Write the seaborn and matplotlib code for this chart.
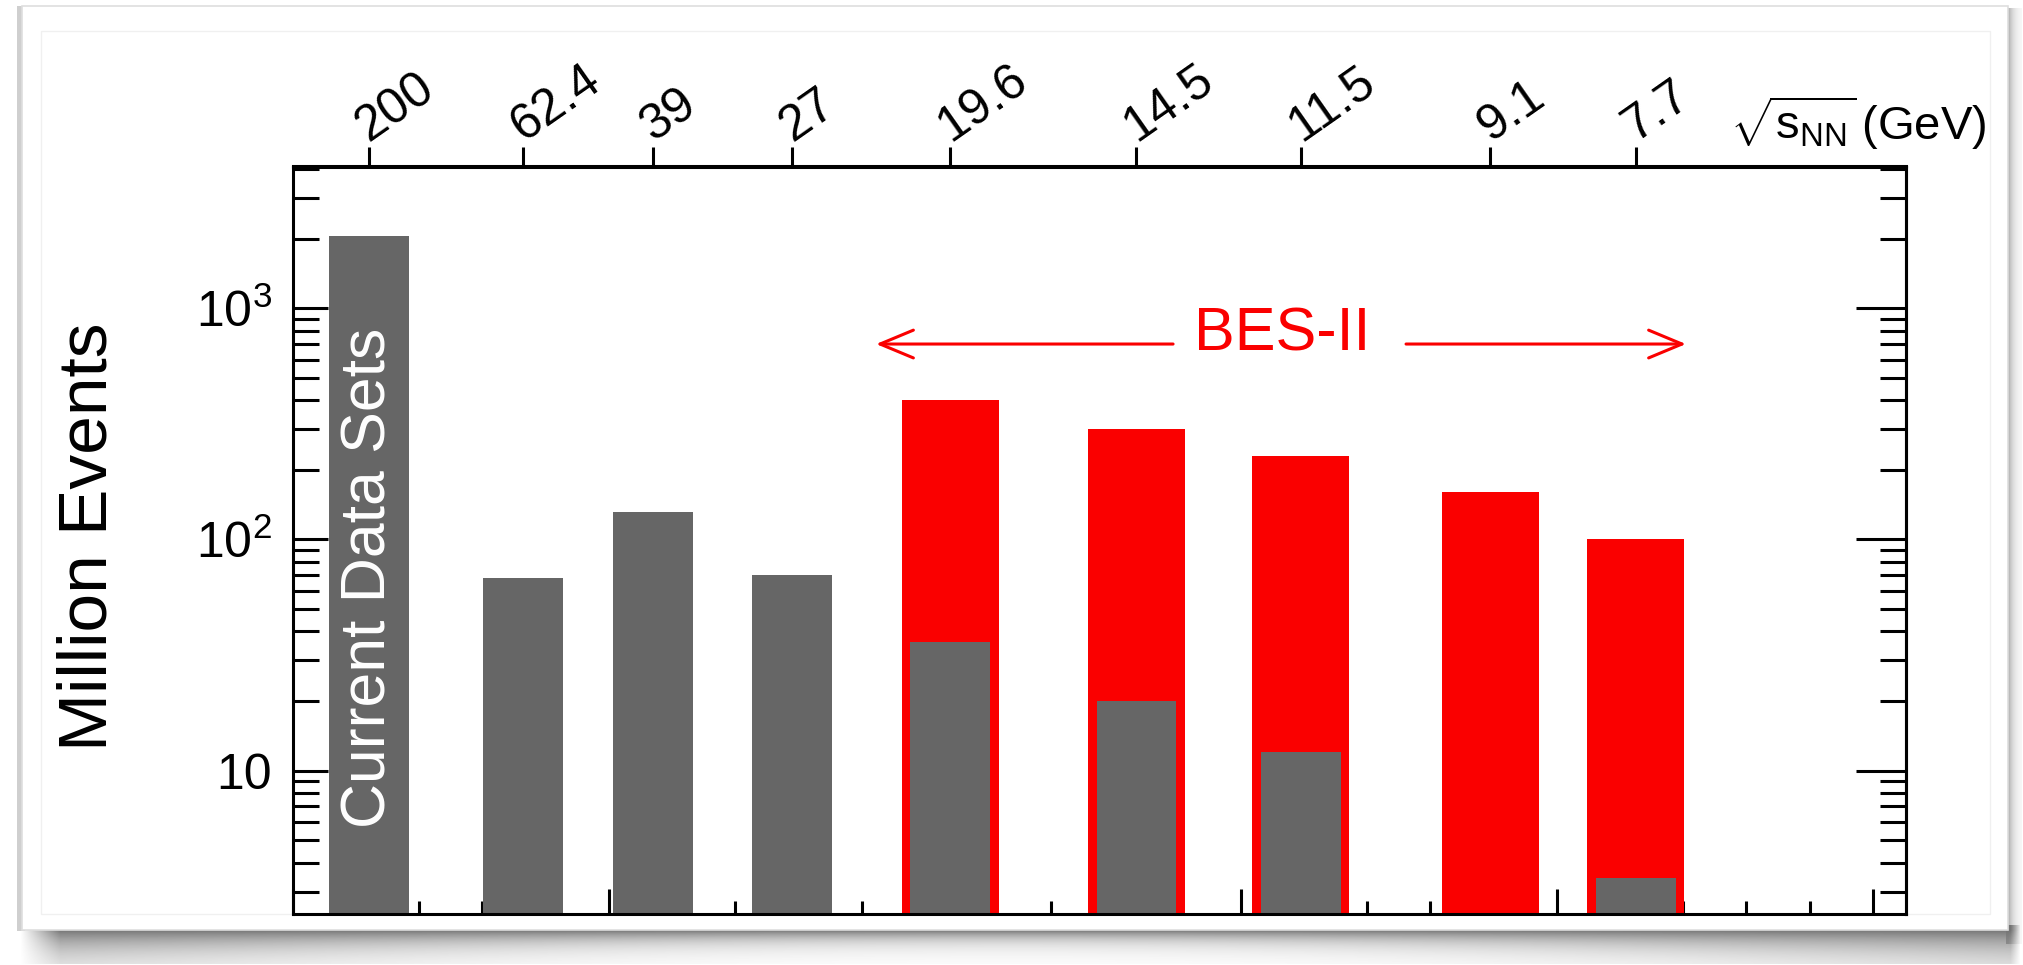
import numpy as np
import pandas as pd
import matplotlib
matplotlib.use('Agg')
import matplotlib.pyplot as plt
import seaborn as sns
import matplotlib.transforms as mtransforms
from matplotlib.patches import Rectangle
from matplotlib.ticker import (FixedLocator, FixedFormatter, NullFormatter,
                               MultipleLocator, LogLocator, NullLocator)

# ---------------- data ----------------
energies = ['200', '62.4', '39', '27', '19.6', '14.5', '11.5', '9.1', '7.7']   # sqrt(s_NN) GeV
mu_B = [24, 73, 114, 158, 208, 267, 319, 379, 425]                             # MeV (x position)
current_events = [2050, 68, 132, 70, 36, 20, 12, np.nan, 3.45]                 # million events
bes2_events = [np.nan, np.nan, np.nan, np.nan, 400, 300, 230, 160, 100]        # million events
y_tick_values = [10, 100, 1000]
y_tick_labels = ['10', r'$10^{2}$', r'$10^{3}$']

# ---------------- style ----------------
sns.set_style('white')
plt.rcParams['font.family'] = ['Liberation Sans', 'DejaVu Sans']
plt.rcParams['mathtext.fontset'] = 'custom'
plt.rcParams['mathtext.rm'] = 'Liberation Sans'
plt.rcParams['mathtext.it'] = 'Liberation Sans:italic'
plt.rcParams['mathtext.bf'] = 'Liberation Sans:bold'
plt.rcParams['axes.axisbelow'] = True
for k in ['text.color', 'axes.labelcolor', 'xtick.color', 'ytick.color',
          'axes.edgecolor']:
    plt.rcParams[k] = 'black'

W, H = 2023, 965
fig = plt.figure(figsize=(W / 100, H / 100), dpi=100)
fig.patch.set_facecolor('white')

# ---------------- slide card background ----------------
bg = fig.add_axes([0, 0, 1, 1], zorder=-10)
bg.axis('off')
# bottom shadow
ys = np.arange(925, 965)
xs = np.arange(0, W)
X, Y = np.meshgrid(xs, ys)
u = np.abs(2 * X / W - 1)
thick = 10 + 16 * u ** 2
alpha = 0.9 * np.exp(-((Y - 930).clip(0)) / thick)
edge_fade = np.clip((X - 20) / 40, 0, 1) * np.clip((2020 - X) / 10, 0, 1)
alpha = alpha * edge_fade
img = np.zeros((len(ys), len(xs), 4))
img[..., :3] = 0.40
img[..., 3] = alpha
bg.imshow(img, extent=(0, W, ys[-1], ys[0]), aspect='auto', interpolation='bilinear')
# right shadow
xr = np.arange(2006, 2023)
ysr = np.arange(8, 945)
Xr, Yr = np.meshgrid(xr, ysr)
imr = np.zeros((len(ysr), len(xr), 4))
imr[..., :3] = 0.45
imr[..., 3] = 0.6 * np.exp(-(Xr - 2008).clip(0) / 6.0)
bg.imshow(imr, extent=(xr[0], xr[-1], ysr[-1], ysr[0]), aspect='auto', interpolation='bilinear')
# left thin shadow
bg.add_patch(Rectangle((17, 6), 8, 925, fc='#cfcfcf', ec='none'))
# card
bg.add_patch(Rectangle((22, 6), 1986, 924, fc='white', ec='#dedede', lw=1.2))
bg.add_patch(Rectangle((41, 31), 1949, 883, fc='none', ec='#f0f0f0', lw=1.0))
bg.set_xlim(0, W)
bg.set_ylim(H, 0)

# ---------------- main axes ----------------
ax = fig.add_axes([292.7 / W, 1 - 914 / H, (1906 - 292.7) / W, (914 - 166.5) / H])
ax.set_facecolor('none')
ax.set_yscale('log')

df = pd.DataFrame({'energy': energies, 'mu_B': mu_B,
                   'current': current_events, 'bes2': bes2_events})
red_df = df.dropna(subset=['bes2'])
grey_df = df.dropna(subset=['current'])


def width_frac(w, x):
    return w / np.diff(np.sort(np.asarray(x, float))).min()


sns.barplot(data=red_df, x='mu_B', y='bes2', native_scale=True,
            width=width_frac(30.7, red_df['mu_B']), color='#fa0000',
            saturation=1, errorbar=None, linewidth=0, ax=ax, zorder=3)
sns.barplot(data=grey_df, x='mu_B', y='current', native_scale=True,
            width=width_frac(25.3, grey_df['mu_B']), color='#666666',
            saturation=1, errorbar=None, linewidth=0, ax=ax, zorder=4)

ax.set_xlim(0, 510.5)
ax.set_ylim(2.4, 4100)
ax.set_xlabel('')
ax.set_ylabel('')

# bottom ticks (no labels)
ax.xaxis.set_major_locator(MultipleLocator(100))
ax.xaxis.set_minor_locator(MultipleLocator(20))
ax.tick_params(axis='x', which='both', direction='in', bottom=True, top=False,
               labelbottom=False, width=2.2, color='black')
ax.tick_params(axis='x', which='major', length=18)
ax.tick_params(axis='x', which='minor', length=9.4)

# left ticks
ax.yaxis.set_major_locator(FixedLocator(y_tick_values))
ax.yaxis.set_major_formatter(FixedFormatter(y_tick_labels))
ax.yaxis.set_minor_locator(LogLocator(base=10, subs=np.arange(2, 10)))
ax.yaxis.set_minor_formatter(NullFormatter())
ax.tick_params(axis='y', which='both', direction='in', left=True, right=False,
               width=2.2, color='black', labelcolor='black')
ax.tick_params(axis='y', which='major', length=25, labelsize=36, pad=15)
ax.tick_params(axis='y', which='minor', length=18.5)

for s in ax.spines.values():
    s.set_linewidth(2.2)
    s.set_color('black')
    s.set_zorder(6)
    s.set_visible(True)

# right ticks
secy = ax.secondary_yaxis('right')
secy.yaxis.set_major_locator(FixedLocator(y_tick_values))
secy.yaxis.set_minor_locator(LogLocator(base=10, subs=np.arange(2, 10)))
secy.yaxis.set_major_formatter(NullFormatter())
secy.yaxis.set_minor_formatter(NullFormatter())
secy.tick_params(axis='y', which='both', direction='in', width=2.2, color='black')
secy.tick_params(axis='y', which='major', length=36)
secy.tick_params(axis='y', which='minor', length=18.7)
for s in secy.spines.values():
    s.set_linewidth(2.2)
    s.set_color('black')

# top energy axis
secx = ax.secondary_xaxis('top')
secx.set_xticks(mu_B)
secx.set_xticklabels(energies, rotation=35, ha='left', va='baseline',
                     rotation_mode='anchor', fontsize=36, color='black')
secx.xaxis.set_minor_locator(NullLocator())
secx.tick_params(axis='x', which='major', direction='out', length=13.7,
                 width=2.2, pad=4, color='black')
for s in secx.spines.values():
    s.set_linewidth(2.2)
    s.set_color('black')

# ---------------- texts ----------------
fig.text(89 / W, 1 - 537 / H, 'Million Events', rotation=90,
         ha='center', va='center', fontsize=50, color='black')
fig.text(1730 / W, 1 - 140 / H, r'$\sqrt{\mathrm{s}_{\mathrm{NN}}}\,$(GeV)',
         ha='left', va='baseline', fontsize=34, color='black')

trans = mtransforms.blended_transform_factory(ax.transData, ax.transAxes)
ax.text(mu_B[0], 0.4495, 'Current Data Sets', transform=trans, rotation=90,
        color='white', fontsize=45, ha='center', va='center', zorder=7)

ax.text(0.6133, 0.774, 'BES-II', transform=ax.transAxes, color='#fa0000',
        fontsize=44, ha='center', va='center', zorder=7)
arrow_kw = dict(arrowstyle='->,head_length=1.2,head_width=0.5', lw=2.2,
                color='#fa0000', mutation_scale=20, shrinkA=0, shrinkB=0)
ax.annotate('', xy=(0.3616, 0.7625), xytext=(0.5457, 0.7625),
            xycoords='axes fraction', textcoords='axes fraction',
            arrowprops=arrow_kw, zorder=7)
ax.annotate('', xy=(0.8636, 0.7625), xytext=(0.6901, 0.7625),
            xycoords='axes fraction', textcoords='axes fraction',
            arrowprops=arrow_kw, zorder=7)

fig.savefig('out.png', dpi=100, facecolor='white')
